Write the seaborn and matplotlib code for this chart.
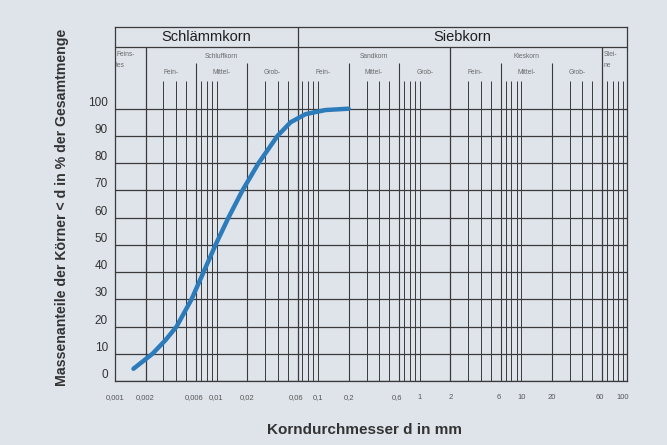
import matplotlib
matplotlib.use("Agg")
import matplotlib.pyplot as plt
import seaborn as sns
import pandas as pd

# -------------------------
# DATEN
# -------------------------
korn_d = [0.00152, 0.00234, 0.00314, 0.00404, 0.00567, 0.00745, 0.00977,
          0.0131, 0.0180, 0.0259, 0.0398, 0.0535, 0.0752, 0.118, 0.2]
durchgang = [4.5, 10, 15, 20, 30, 40, 50, 60, 70, 80, 90, 95, 98, 99.5, 100]

x_ticks = [0.001, 0.002, 0.006, 0.01, 0.02, 0.06, 0.1, 0.2, 0.6, 1, 2, 6, 10, 20, 60, 100]
x_labels = ["0,001", "0,002", "0,006", "0,01", "0,02", "0,06", "0,1", "0,2",
            "0,6", "1", "2", "6", "10", "20", "60", "100"]
y_ticks = [0, 10, 20, 30, 40, 50, 60, 70, 80, 90, 100]

haupt_namen = ["Schlämmkorn", "Siebkorn"]
haupt_grenzen = [0.001, 0.063, 110]
gruppen_namen = ["Feins-\ntes", "Schluffkorn", "Sandkorn", "Kieskorn", "Stei-\nne"]
gruppen_grenzen = [0.001, 0.002, 0.063, 2, 63, 110]
stufen_namen = ["Fein-", "Mittel-", "Grob-"]
stufen_grenzen = [[0.002, 0.0063, 0.02, 0.063],
                  [0.063, 0.2, 0.63, 2],
                  [2, 6.3, 20, 63]]
dekaden = [0.001, 0.01, 0.1, 1, 10]
raster_faktoren = [3, 4, 5, 7, 8, 9, 10]

df = pd.DataFrame({"d": korn_d, "p": durchgang})

# -------------------------
# STIL
# -------------------------
bg = "#dfe4eb"
ink = "#3a3a3a"
sns.set_style("white", {"axes.facecolor": bg, "figure.facecolor": bg,
                        "axes.edgecolor": ink})
plt.rcParams["font.family"] = ["Liberation Sans", "DejaVu Sans"]

fig = plt.figure(figsize=(6.67, 4.45), dpi=100)
ax = fig.add_axes([115 / 667, 1 - 381 / 445, 512 / 667, 354 / 445])

xmin, xmax, ytop = 0.001, 110, 130
ax.set_xscale("log")
ax.set_xlim(xmin, xmax)
ax.set_ylim(0, ytop)

# horizontale Linien
for y in y_ticks:
    ax.axhline(y, color=ink, lw=0.9, zorder=1)

# feines Raster
raster = [d * f for d in dekaden for f in raster_faktoren]
ax.vlines(raster, 0, 110, color=ink, lw=0.7, zorder=1)

# Stufengrenzen (Fein/Mittel/Grob)
for g in stufen_grenzen:
    ax.vlines(g[1:3], 0, 116.9, color=ink, lw=0.8, zorder=1)

# Gruppengrenzen
ax.vlines([0.002, 2, 63], 0, 122.8, color=ink, lw=0.9, zorder=1)
ax.vlines([0.063], 0, ytop, color=ink, lw=0.9, zorder=1)
ax.axhline(122.8, color=ink, lw=0.9, zorder=1)

# Kopfzeilen
geo = lambda a, b: (a * b) ** 0.5
for name, a, b in zip(haupt_namen, haupt_grenzen[:-1], haupt_grenzen[1:]):
    ax.text(geo(a, b), 126.4, name, ha="center", va="center",
            fontsize=10.5, color="#1e1e1e", fontweight="medium")
for name, a, b in zip(gruppen_namen, gruppen_grenzen[:-1], gruppen_grenzen[1:]):
    if "\n" in name:
        ax.text(a * 1.03, 121.3, name, ha="left", va="top", fontsize=4.8,
                color="#6a6a6a", linespacing=1.9)
    else:
        ax.text(geo(a, b), 119.3, name, ha="center", va="center",
                fontsize=4.8, color="#6a6a6a")
for g in stufen_grenzen:
    for name, a, b in zip(stufen_namen, g[:-1], g[1:]):
        ax.text(geo(a, b), 113.4, name, ha="center", va="center",
                fontsize=4.8, color="#6a6a6a")

# Sieblinie
sns.lineplot(data=df, x="d", y="p", ax=ax, color="#2c7bbb", lw=3.2,
             sort=False, zorder=5, solid_capstyle="round")

# Achsen
ax.set_xticks(x_ticks)
ax.set_xticklabels(x_labels)
ax.minorticks_off()
ax.tick_params(axis="x", length=6, width=0.8, color=ink, labelsize=5.5,
               labelcolor="#555555", pad=3.5)
ax.set_yticks(y_ticks)
ax.set_yticklabels([str(v) for v in y_ticks])
ax.tick_params(axis="y", length=3, width=0.9, color=ink, labelsize=8.5,
               labelcolor="#333333", pad=2)
plt.setp(ax.get_yticklabels(), va="bottom")
for s in ax.spines.values():
    s.set_color(ink)
    s.set_linewidth(0.9)

ax.set_xlabel("Korndurchmesser d in mm", fontsize=11, fontweight="bold",
              color="#333333")
ax.xaxis.set_label_coords(0.488, -0.119)
ax.set_ylabel("Massenanteile der Körner < d in % der Gesamtmenge", fontsize=10.2,
              fontweight="bold", color="#333333")
ax.yaxis.set_label_coords(-0.09, 0.49)

fig.savefig("out.png", dpi=100, facecolor=bg)
